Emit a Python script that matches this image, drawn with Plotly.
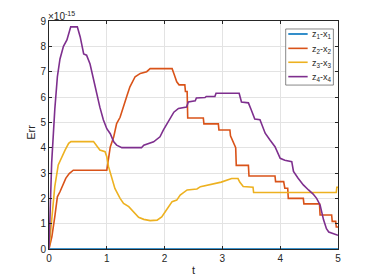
import plotly.graph_objects as go

t1 = [0, 5]
e1 = [0, 0]

t2 = [0, 0.05, 0.1, 0.145, 0.19, 0.25, 0.29, 0.35, 0.42, 1.0, 1.03, 1.06, 1.12, 1.17, 1.23, 1.29, 1.35, 1.4, 1.49,
      1.58, 1.69, 1.75, 2.13, 2.16, 2.21, 2.25, 2.35, 2.36, 2.39, 2.40, 2.67, 2.68, 2.93, 2.94, 3.13, 3.14, 3.18,
      3.23, 3.24, 3.45, 3.46, 3.91, 3.92, 4.06, 4.08, 4.13, 4.14, 4.4, 4.41, 4.68, 4.69, 4.89, 4.9, 4.96, 4.97, 5.0]
e2 = [0, 0.49, 1.27, 2.06, 2.26, 2.59, 2.79, 2.98, 3.11, 3.11, 3.64, 4.03, 4.43, 4.95, 5.2, 5.67, 6.06, 6.4, 6.8,
      6.93, 7.0, 7.12, 7.12, 6.93, 6.6, 6.48, 6.48, 6.22, 6.22, 5.17, 5.17, 4.94, 4.94, 4.70, 4.70, 4.47, 4.29,
      4.0, 3.3, 3.3, 2.88, 2.88, 2.66, 2.66, 2.4, 2.4, 2.0, 2.0, 1.78, 1.78, 1.34, 1.34, 1.09, 1.09, 0.87, 0.87]

t3 = [0, 0.05, 0.1, 0.16, 0.22, 0.28, 0.34, 0.38, 0.77, 0.83, 0.88, 0.97, 1.0, 1.03, 1.09, 1.14, 1.23, 1.29, 1.38,
      1.46, 1.55, 1.64, 1.75, 1.87, 1.95, 2.04, 2.13, 2.21, 2.27, 2.39, 2.56, 2.62, 2.78, 2.98, 3.16, 3.27, 3.3,
      3.36, 3.53, 3.54, 4.97, 4.98, 5.0]
e3 = [0, 1.27, 2.46, 3.32, 3.64, 3.91, 4.17, 4.24, 4.24, 4.04, 3.91, 3.84, 3.64, 3.25, 2.72, 2.39, 2.0, 1.8, 1.67,
      1.47, 1.25, 1.17, 1.12, 1.14, 1.27, 1.57, 1.87, 1.93, 2.13, 2.33, 2.37, 2.46, 2.54, 2.64, 2.78, 2.78, 2.64,
      2.47, 2.44, 2.23, 2.23, 2.44, 2.44]

t4 = [0, 0.046, 0.1, 0.145, 0.19, 0.25, 0.31, 0.376, 0.49, 0.54, 0.6, 0.65, 0.71, 0.77, 0.83, 0.88, 0.94, 1.0,
      1.06, 1.12, 1.17, 1.26, 1.6, 1.64, 1.81, 1.92, 1.98, 2.04, 2.1, 2.16, 2.24, 2.38, 2.41, 2.53, 2.55, 2.7,
      2.72, 2.87, 2.89, 3.29, 3.33, 3.45, 3.5, 3.56, 3.65, 3.74, 3.82, 3.91, 4.0, 4.08, 4.2, 4.23, 4.31, 4.4,
      4.49, 4.57, 4.63, 4.69, 4.75, 4.8, 4.84, 4.92, 5.0]
e4 = [0, 3.4, 5.5, 6.8, 7.5, 8.0, 8.25, 8.77, 8.77, 8.37, 7.7, 7.65, 7.3, 6.65, 6.0, 5.6, 5.1, 4.75,
      4.55, 4.23, 4.1, 4.0, 4.0, 4.1, 4.23, 4.43, 4.7, 4.95, 5.2, 5.4, 5.55, 5.6, 5.8, 5.85, 5.96, 5.98,
      6.02, 6.02, 6.15, 6.15, 5.8, 5.77, 5.49, 5.13, 5.1, 4.57, 4.31, 4.04, 3.58, 3.5, 3.45, 3.06, 2.79, 2.53,
      2.33, 2.17, 2.0, 1.74, 1.15, 0.8, 0.67, 0.6, 0.54]

names = ["z<sub>1</sub>-x<sub>1</sub>", "z<sub>2</sub>-x<sub>2</sub>",
         "z<sub>3</sub>-x<sub>3</sub>", "z<sub>4</sub>-x<sub>4</sub>"]
colors = ["#0072BD", "#D95319", "#EDB120", "#7E2F8E"]
xticks = [0, 1, 2, 3, 4, 5]
yticks = [0, 1, 2, 3, 4, 5, 6, 7, 8, 9]

FONT = "Liberation Sans"
DARK = "#262626"

fig = go.Figure()
for t, e, n, c in zip([t1, t2, t3, t4], [e1, e2, e3, e4], names, colors):
    fig.add_trace(go.Scatter(x=t, y=e, mode="lines", name=n, line=dict(color=c, width=1.6),
                             showlegend=False))

axis_common = dict(showline=True, linecolor=DARK, linewidth=1, mirror="allticks", ticks="inside",
                   ticklen=3, tickcolor=DARK, showgrid=True, gridcolor="#e3e3e3", gridwidth=1,
                   zeroline=False, automargin=False,
                   tickfont=dict(family=FONT, size=10, color=DARK))

# The page body adds an 8px offset, so the figure is 8px smaller and margins shifted.
fig.update_layout(
    width=366, height=272,
    margin=dict(l=41, r=36, t=13, b=31, autoexpand=False),
    plot_bgcolor="white", paper_bgcolor="white",
    xaxis=dict(range=[0, 5], tickvals=xticks, **axis_common),
    yaxis=dict(range=[0, 9], tickvals=yticks, **axis_common),
    showlegend=False,
)

# axis titles
fig.add_annotation(xref="paper", yref="paper", x=0.5, y=-0.092, xanchor="center", yanchor="middle",
                   text="t", showarrow=False, font=dict(family=FONT, size=11, color=DARK))
fig.add_annotation(xref="paper", yref="paper", x=-0.063, y=0.513, xanchor="center", yanchor="middle",
                   text="Err", textangle=-90, showarrow=False, font=dict(family=FONT, size=11, color=DARK))
# exponent
fig.add_annotation(xref="paper", yref="paper", x=0, y=1, xanchor="left", yanchor="bottom",
                   text="×10<sup>-15</sup>", showarrow=False, yshift=-3, xshift=-3,
                   font=dict(family=FONT, size=10, color=DARK))

# legend box (MATLAB style, compact)
leg_x0, leg_x1, leg_y0, leg_y1 = 0.819, 0.984, 0.719, 0.965
fig.add_shape(type="rect", xref="paper", yref="paper", x0=leg_x0, x1=leg_x1, y0=leg_y0, y1=leg_y1,
              fillcolor="white", line=dict(color="#555555", width=0.7), layer="above")
row_y = [0.943, 0.880, 0.819, 0.756]
for n, c, ry in zip(names, colors, row_y):
    fig.add_shape(type="line", xref="paper", yref="paper", x0=0.828, x1=0.895, y0=ry, y1=ry,
                  line=dict(color=c, width=1.6), layer="above")
    fig.add_annotation(xref="paper", yref="paper", x=0.903, y=ry, xanchor="left", yanchor="middle",
                       text=n, showarrow=False, yshift=-1, font=dict(family=FONT, size=9, color=DARK))

fig.write_html("out.html")
